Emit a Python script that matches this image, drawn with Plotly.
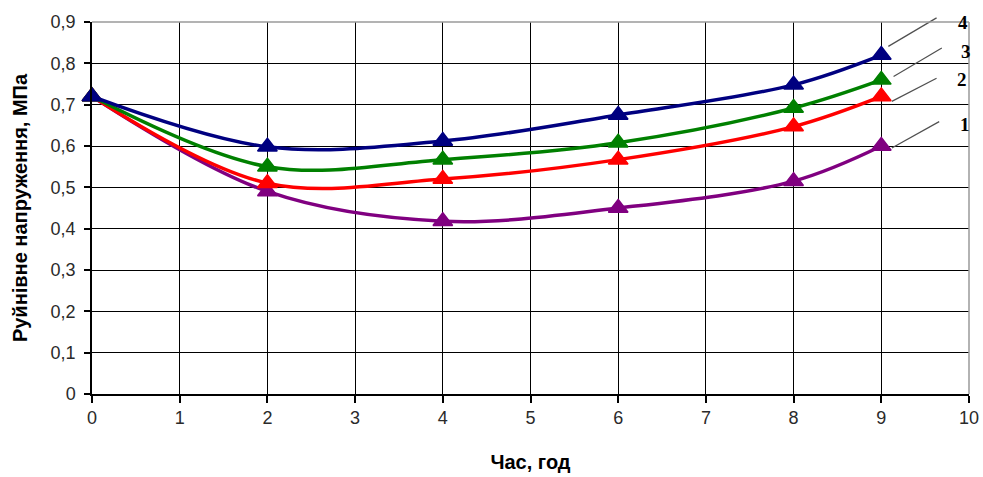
import plotly.graph_objects as go

# Time, years
hours = [0, 2, 4, 6, 8, 9]

# Breaking stress, MPa, for each curve
curve_1 = [0.72, 0.49, 0.418, 0.45, 0.515, 0.60]
curve_2 = [0.72, 0.51, 0.52, 0.567, 0.647, 0.72]
curve_3 = [0.72, 0.55, 0.567, 0.608, 0.692, 0.76]
curve_4 = [0.72, 0.598, 0.612, 0.675, 0.748, 0.82]

curve_names = ["1", "2", "3", "4"]
curve_values = [curve_1, curve_2, curve_3, curve_4]
curve_colors = ["#800080", "#FF0000", "#008000", "#000080"]

x_ticks = list(range(0, 11))
y_ticks = [round(0.1 * i, 1) for i in range(0, 10)]
y_tick_text = [("0" if v == 0 else f"{v:.1f}".replace(".", ",")) for v in y_ticks]

Y_MAX = 0.9
X_MAX = 10

# leader line geometry for each curve label: (x0, y0, x1, y1) in data units
leaders = [
    (9.12, 0.595, 9.66, 0.659),
    (9.12, 0.708, 9.63, 0.764),
    (9.14, 0.768, 9.69, 0.837),
    (9.08, 0.841, 9.63, 0.910),
]
# label anchor positions (x, y) in data units
label_pos = [(9.95, 0.651), (9.92, 0.760), (9.97, 0.828), (9.93, 0.900)]

fig = go.Figure()

for name, vals, col in zip(curve_names, curve_values, curve_colors):
    fig.add_trace(go.Scatter(
        x=hours, y=vals, name=name, mode="lines+markers",
        line=dict(color=col, width=3.5, shape="spline", smoothing=1.0),
        marker=dict(symbol="triangle-up", size=17, color=col,
                    line=dict(color=col, width=1.5)),
        cliponaxis=False,
    ))


def to_paper(v):
    return v / Y_MAX


shapes = []
for (x0, y0, x1, y1) in leaders:
    shapes.append(dict(type="line", xref="x", yref="paper",
                       x0=x0, y0=to_paper(y0), x1=x1, y1=to_paper(y1),
                       line=dict(color="#505050", width=1.2), layer="above"))

# light grey frame on the top and right edges of the plot area
shapes.append(dict(type="line", xref="paper", yref="paper", x0=0, x1=1, y0=1, y1=1,
                   line=dict(color="#9a9a9a", width=1.5), layer="above"))
shapes.append(dict(type="line", xref="paper", yref="paper", x0=1, x1=1, y0=0, y1=1,
                   line=dict(color="#9a9a9a", width=1.5), layer="above"))

annotations = []
for name, (lx, ly) in zip(curve_names, label_pos):
    annotations.append(dict(x=lx, y=ly, xref="x", yref="y", text=f"<b>{name}</b>",
                            showarrow=False, xanchor="center", yanchor="middle",
                            font=dict(family="Liberation Serif", size=19, color="black")))

fig.update_layout(
    width=983, height=477,
    margin=dict(l=92, r=14, t=22, b=83, autoexpand=False),
    paper_bgcolor="white", plot_bgcolor="white",
    showlegend=False,
    shapes=shapes,
    annotations=annotations,
    font=dict(family="Liberation Sans", color="#222222"),
)

fig.update_xaxes(
    range=[0, X_MAX], tickvals=x_ticks, ticktext=[str(t) for t in x_ticks],
    showgrid=True, gridcolor="black", gridwidth=1.2,
    showline=True, linecolor="black", linewidth=1.5,
    ticks="outside", ticklen=7, tickcolor="black", tickwidth=1.5,
    tickfont=dict(family="Liberation Sans", size=18, color="#2a2a2a"),
    zeroline=False, automargin=False,
    title=dict(text="<b>Час, год</b>", standoff=28,
               font=dict(family="Liberation Sans", size=20, color="black")),
)
fig.update_yaxes(
    range=[0, Y_MAX], tickvals=y_ticks, ticktext=y_tick_text,
    showgrid=True, gridcolor="black", gridwidth=1.2,
    showline=True, linecolor="black", linewidth=1.5,
    ticks="outside", ticklen=6, tickcolor="black", tickwidth=1.5,
    ticklabelstandoff=5,
    tickfont=dict(family="Liberation Sans", size=18, color="#2a2a2a"),
    zeroline=False, automargin=False,
    title=dict(text="<b>Руйнівне напруження, МПа</b>", standoff=18,
               font=dict(family="Liberation Sans", size=20, color="black")),
)

fig.write_html("out.html")
